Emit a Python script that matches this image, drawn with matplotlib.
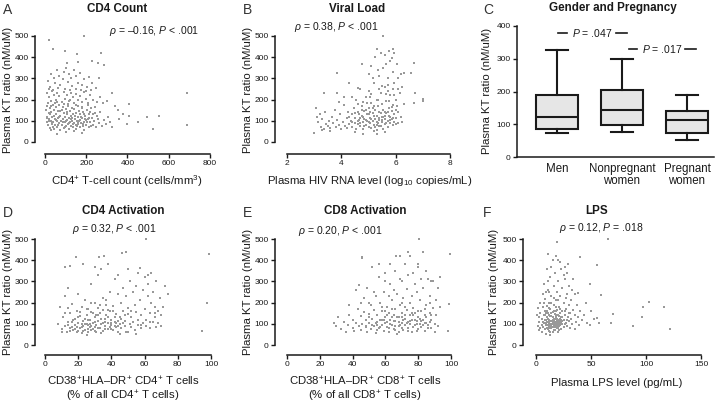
import numpy as np
import matplotlib.pyplot as plt

W, H, DPI = 720, 403, 100

# ---- data ----
# A: CD4 count (cells/mm3) vs KT ratio
a_points = [
    (21, 481), (191, 500), (37, 439), (99, 430), (153, 415), (271, 418), (105, 374), (158, 379),
    (228, 384), (256, 371), (288, 363), (325, 233), (689, 233), (689, 80), (522, 60), (554, 124),
    (493, 119), (453, 94), (406, 177), (406, 124), (400, 83), (341, 172), (353, 152), (360, 110),
    (380, 130),
    (15, 290), (25, 260), (30, 320), (45, 300), (50, 280), (60, 340), (70, 310), (75, 270),
    (85, 295), (90, 330), (100, 350), (110, 285), (115, 320), (125, 300), (130, 265), (140, 340),
    (150, 310), (160, 280), (170, 325), (180, 270), (190, 295), (205, 260), (215, 305), (230, 280),
    (245, 255), (260, 300), (20, 250), (40, 245), (65, 255), (95, 250), (120, 245), (150, 250),
    (175, 245), (200, 240), (225, 245),
    (10, 230), (20, 210), (30, 195), (35, 240), (45, 220), (55, 200), (60, 230), (70, 215),
    (80, 190), (90, 235), (95, 205), (105, 220), (115, 195), (125, 230), (135, 210), (140, 185),
    (150, 225), (160, 200), (170, 215), (180, 190), (190, 235), (200, 205), (210, 185), (220, 220),
    (235, 200), (250, 190), (265, 210), (280, 185), (300, 195), (15, 185), (50, 185), (110, 180),
    (5, 150), (8, 120), (10, 95), (12, 170), (15, 80), (18, 135), (20, 110), (22, 160), (25, 65),
    (28, 100), (30, 140), (32, 85), (35, 120), (38, 175), (40, 95), (42, 60), (45, 150), (48, 110),
    (50, 80), (52, 130), (55, 165), (58, 100), (60, 70), (62, 145), (65, 115), (68, 90), (70, 175),
    (72, 55), (75, 125), (78, 100), (80, 150), (82, 80), (85, 110), (88, 165), (90, 65), (92, 135),
    (95, 95), (98, 120), (100, 155), (102, 75), (105, 105), (108, 140), (110, 85), (112, 170),
    (115, 60), (118, 115), (120, 95), (122, 145), (125, 75), (128, 125), (130, 160), (132, 100),
    (135, 70), (138, 130), (140, 90), (142, 155), (145, 110), (148, 80), (150, 135), (152, 60),
    (155, 100), (158, 170), (160, 120), (162, 85), (165, 145), (168, 70), (170, 105), (172, 130),
    (175, 90), (178, 160), (180, 115), (182, 75), (185, 140), (188, 95), (190, 55), (195, 125),
    (198, 105), (200, 80), (205, 150), (208, 110), (212, 70), (215, 130), (220, 95), (225, 160),
    (228, 115), (232, 80), (238, 100), (242, 135), (248, 70), (255, 110), (260, 90), (268, 140),
    (275, 75), (285, 105), (295, 85), (305, 120), (315, 95), (325, 70), (60, 40), (100, 45),
    (140, 50), (180, 42), (30, 58),
    (20, 100), (25, 130), (35, 90), (45, 125), (55, 105), (65, 80), (75, 145), (85, 95), (95, 70),
    (105, 130), (115, 90), (125, 110), (135, 85), (145, 125), (155, 75), (165, 100), (175, 120),
    (185, 85), (195, 110), (205, 95), (215, 115), (225, 75), (235, 130), (10, 115), (40, 70),
    (70, 120), (100, 100), (130, 115), (160, 95), (190, 130), (220, 140), (250, 125), (30, 170),
    (60, 190), (90, 180), (120, 200), (150, 175), (180, 165), (210, 175), (240, 165),
]

# B: viral load (log10 copies/mL) vs KT ratio
b_points = [
    (5.52, 500), (5.30, 437), (5.89, 440), (3.84, 324), (3.37, 233), (3.84, 233), (4.27, 277),
    (6.69, 374), (6.73, 233), (6.99, 201), (7.02, 195), (6.69, 185), (6.56, 324), (6.32, 324),
    (3.0, 44), (5.33, 40), (3.05, 160),
    (3.1, 120), (3.15, 95), (3.2, 130), (3.25, 70), (3.3, 110), (3.35, 60), (3.4, 140), (3.45, 85),
    (3.5, 75), (3.55, 100), (3.6, 65), (3.65, 120), (3.7, 90), (3.75, 150), (3.8, 70), (3.85, 105),
    (3.9, 80), (3.95, 130), (4.0, 60), (4.05, 95), (4.1, 175), (4.15, 75), (4.2, 115), (4.25, 140),
    (4.3, 85), (3.3, 55), (3.6, 50), (3.9, 190), (4.1, 210), (4.2, 65),
    (4.35, 100), (4.4, 130), (4.4, 70), (4.45, 160), (4.5, 90), (4.5, 115), (4.55, 200), (4.55, 60),
    (4.6, 140), (4.6, 85), (4.65, 105), (4.7, 250), (4.7, 75), (4.75, 125), (4.75, 170), (4.8, 95),
    (4.8, 60), (4.85, 145), (4.85, 110), (4.9, 210), (4.9, 80), (4.95, 130), (4.95, 100), (5.0, 70),
    (5.0, 160), (5.0, 240), (5.05, 115), (5.05, 90), (5.1, 185), (5.1, 65), (5.15, 135), (5.15, 100),
    (5.2, 280), (5.2, 80), (5.25, 150), (5.25, 110), (5.3, 125), (5.3, 55), (5.3, 200), (5.35, 90),
    (5.35, 170), (5.4, 310), (5.4, 105), (5.4, 140), (5.45, 75), (5.45, 230), (5.5, 120), (5.5, 95),
    (5.5, 180), (5.55, 350), (5.55, 60), (5.55, 150), (5.6, 110), (5.6, 260), (5.6, 85), (5.65, 135),
    (5.65, 195), (5.7, 100), (5.7, 300), (5.7, 70), (5.75, 160), (5.75, 125), (5.8, 90), (5.8, 220),
    (5.8, 380), (5.85, 145), (5.85, 110), (5.9, 80), (5.9, 250), (5.9, 175), (5.95, 130), (5.95, 95),
    (6.0, 200), (6.0, 115), (6.0, 150), (6.05, 170), (6.1, 90), (6.1, 140), (6.15, 230), (6.2, 120),
    (6.25, 95), (6.3, 180),
    (4.6, 180), (4.7, 115), (4.8, 190), (4.9, 150), (5.0, 130), (5.1, 225), (5.2, 170), (5.3, 95),
    (5.4, 75), (5.5, 265), (5.6, 140), (5.7, 240), (5.8, 120), (5.9, 330), (4.5, 45), (4.8, 40),
    (5.2, 50), (5.6, 45), (4.4, 210), (4.6, 255), (5.0, 320), (5.1, 360), (5.25, 400), (5.45, 420),
    (5.6, 410), (5.75, 430), (5.85, 395), (5.95, 420), (6.05, 370), (4.75, 370), (5.15, 300),
    (5.35, 340), (5.65, 370), (6.1, 300), (6.2, 320), (6.25, 260), (5.95, 280), (5.65, 225),
    (4.6, 100), (4.7, 90), (4.8, 120), (4.9, 105), (5.0, 95), (5.1, 110), (5.2, 125), (5.3, 80),
    (5.4, 115), (5.5, 105), (5.6, 125), (5.7, 140), (5.8, 105), (5.9, 115), (4.65, 130), (4.85, 75),
    (5.05, 140), (5.25, 70), (5.45, 135), (5.65, 90), (5.85, 165), (6.0, 85), (4.5, 135), (4.4, 95),
    (4.3, 120), (4.95, 185), (5.35, 200), (5.75, 195), (5.15, 160), (5.55, 120), (4.75, 150),
    (5.95, 220), (6.1, 250), (5.7, 270), (5.4, 250), (5.05, 210),
]

# C: box summaries (whisker low, Q1, median, Q3, whisker high)
c_groups = ['Men', 'Nonpregnant\nwomen', 'Pregnant\nwomen']
c_low = [73, 77, 52]
c_q1 = [85, 97, 72]
c_med = [122, 142, 113]
c_q3 = [190, 206, 139]
c_high = [326, 298, 188]

# D: CD4 activation (%) vs KT ratio
d_points = [
    (60.8, 500), (98.5, 429), (97.4, 197), (94.5, 66), (46.3, 435), (48.7, 438), (32.7, 415),
    (35.7, 420), (18.6, 417),
    (8, 100), (9, 180), (10, 75), (11, 130), (12, 90), (12, 230), (13, 60), (14, 110), (14, 270),
    (15, 150), (15, 80), (16, 195), (17, 70), (17, 120), (18, 95), (19, 160), (19, 60),
    (20, 105), (20, 240), (21, 80), (21, 135), (22, 55), (22, 180), (23, 115), (23, 90), (24, 210),
    (24, 70), (25, 140), (25, 100), (26, 60), (26, 170), (27, 120), (27, 85), (28, 290), (28, 155),
    (29, 75), (29, 105), (30, 200), (30, 130), (31, 60), (31, 95), (32, 175), (32, 115), (33, 80),
    (33, 150), (34, 360), (34, 100), (35, 220), (35, 65), (36, 125), (36, 90), (37, 190), (37, 140),
    (38, 75), (38, 105), (39, 250), (39, 160), (40, 95), (40, 120), (41, 70), (41, 185), (42, 310),
    (42, 110), (43, 85), (43, 145), (44, 240), (44, 60), (45, 130), (45, 100), (46, 200), (46, 80),
    (47, 160), (47, 270), (48, 115), (48, 90), (49, 230), (49, 60), (50, 145), (50, 175), (51, 100),
    (51, 300), (52, 85), (52, 130), (53, 250), (53, 110), (54, 70), (54, 190), (55, 155), (55, 280),
    (56, 95), (56, 120), (57, 210), (57, 365), (58, 80), (58, 140), (59, 260), (59, 105), (60, 170),
    (60, 320), (61, 120), (61, 90), (62, 230), (62, 290), (63, 150), (63, 80), (64, 200), (64, 340),
    (65, 110), (65, 250), (66, 180), (66, 130), (67, 85), (67, 300), (68, 160), (68, 105), (69, 220),
    (70, 140), (70, 90), (71, 180), (72, 280), (74, 240),
    (10, 60), (14, 175), (16, 85), (20, 65), (22, 100), (24, 125), (26, 95), (28, 70), (30, 85),
    (32, 140), (34, 55), (36, 110), (38, 165), (40, 75), (42, 130), (44, 90), (18, 125), (12, 150),
    (28, 200), (35, 165), (45, 50), (50, 60), (55, 50), (25, 45), (32, 330), (38, 380), (23, 380),
    (15, 375), (12, 370), (30, 370), (44, 330), (50, 360), (56, 340), (62, 330),
    (14, 95), (16, 110), (18, 75), (20, 130), (22, 85), (24, 100), (26, 120), (28, 90), (30, 110),
    (32, 80), (34, 125), (36, 75), (38, 130), (40, 105), (42, 90), (44, 115), (46, 125), (48, 140),
    (15, 65), (19, 85), (23, 65), (27, 100), (31, 140), (35, 105), (39, 85), (43, 105), (47, 105),
    (21, 155), (25, 170), (29, 150), (33, 190), (37, 210), (41, 160), (26, 75), (30, 65), (52, 160),
    (58, 95), (63, 110), (66, 150),
]

# E: CD8 activation (%) vs KT ratio
e_points = [
    (80.3, 500), (99.4, 429), (99.0, 193), (98.1, 66), (45.7, 417), (28.9, 102), (31, 133),
    (82.8, 440), (73.6, 437), (66.5, 421),
    (30, 90), (31, 130), (33, 75), (35, 110), (36, 60), (37, 95), (38, 190), (38, 140), (40, 80),
    (40, 120), (41, 65), (42, 260), (42, 105), (43, 170), (44, 90), (44, 285), (45, 135), (45, 70),
    (46, 410), (46, 100), (47, 155), (47, 220), (48, 85), (48, 120), (49, 270), (49, 60), (50, 145),
    (50, 105), (51, 190), (51, 75), (52, 125), (52, 370), (53, 90), (53, 165), (54, 55), (54, 230),
    (55, 110), (55, 140), (56, 80), (56, 380), (57, 200), (57, 120), (58, 95), (58, 160), (59, 65),
    (59, 250), (60, 130), (60, 105), (60, 340), (61, 180), (61, 85), (62, 150), (62, 60), (63, 120),
    (63, 290), (64, 210), (64, 95), (65, 140), (65, 75), (66, 170), (66, 115), (67, 50), (67, 240),
    (68, 130), (68, 90), (69, 190), (69, 310), (70, 105), (70, 150), (71, 70), (71, 220), (72, 125),
    (72, 95), (73, 265), (73, 165), (74, 110), (74, 80), (75, 140), (75, 200), (76, 60), (76, 120),
    (77, 340), (77, 175), (78, 95), (78, 150), (79, 115), (79, 250), (80, 130), (80, 75), (80, 380),
    (81, 210), (81, 100), (82, 160), (82, 85), (83, 120), (83, 270), (84, 140), (84, 65), (85, 190),
    (85, 105), (86, 95), (86, 310), (87, 150), (87, 230), (88, 80), (88, 120), (89, 300), (89, 175),
    (90, 100), (90, 60), (91, 140), (91, 210), (92, 270), (92, 90), (93, 180), (93, 320),
    (52, 95), (55, 70), (58, 180), (61, 110), (64, 170), (66, 90), (68, 60), (70, 130), (72, 180),
    (75, 100), (77, 85), (79, 65), (62, 230), (65, 260), (70, 300), (74, 330), (78, 290), (82, 310),
    (85, 350), (88, 300), (84, 170), (87, 200), (76, 230), (70, 200), (60, 300), (56, 320), (66, 350),
    (72, 380), (80, 370), (50, 200), (45, 200), (53, 250), (63, 380), (69, 420), (75, 420),
    (55, 95), (57, 85), (59, 120), (61, 140), (63, 100), (65, 115), (67, 130), (69, 95), (71, 120),
    (73, 105), (75, 115), (77, 140), (79, 100), (81, 125), (83, 95), (85, 130), (87, 110), (62, 80),
    (66, 70), (70, 80), (74, 65), (78, 120), (82, 115), (86, 80), (60, 160), (64, 130), (68, 110),
    (72, 140), (76, 150), (80, 160), (84, 105), (88, 140), (58, 120), (54, 105), (50, 130), (48, 90),
]

# F: plasma LPS (pg/mL) vs KT ratio
f_points = [
    (65.5, 500), (19.4, 484), (40, 413), (55.8, 377), (48.8, 286), (58.8, 236), (102.7, 201),
    (97.6, 181), (116.4, 181), (96.7, 131), (70.3, 148), (67.9, 102), (88.5, 91), (121.5, 77),
    (57.3, 102), (52.7, 125), (55.7, 128), (49.7, 159), (48.8, 96),
    (1, 140), (2, 90), (2, 175), (3, 110), (3, 70), (4, 150), (4, 200), (5, 95), (5, 125), (5, 60),
    (6, 180), (6, 240), (6, 85), (7, 105), (7, 140), (7, 290), (8, 75), (8, 160), (8, 215), (9, 120),
    (9, 95), (9, 50), (10, 130), (10, 185), (10, 360), (10, 80), (11, 110), (11, 150), (11, 260),
    (11, 430), (12, 90), (12, 65), (12, 200), (12, 140), (13, 115), (13, 170), (13, 320), (13, 45),
    (14, 100), (14, 135), (14, 80), (14, 230), (15, 155), (15, 110), (15, 60), (15, 400), (16, 125),
    (16, 190), (16, 90), (16, 280), (17, 105), (17, 145), (17, 70), (17, 340), (18, 130), (18, 210),
    (18, 95), (18, 420), (19, 115), (19, 165), (19, 80), (19, 250), (20, 140), (20, 100), (20, 60),
    (20, 300), (21, 120), (21, 180), (21, 90), (22, 150), (22, 110), (22, 230), (23, 75), (23, 130),
    (23, 360), (24, 160), (24, 100), (24, 270), (25, 120), (25, 85), (25, 200), (26, 140), (26, 310),
    (27, 105), (27, 170), (28, 90), (28, 240), (29, 130), (29, 380), (30, 115), (30, 190), (31, 150),
    (31, 80), (32, 210), (32, 125), (33, 100), (33, 260), (34, 165), (35, 140), (35, 75), (36, 110),
    (37, 190), (38, 130), (39, 95), (40, 160), (42, 120), (44, 140), (46, 105), (45, 200), (38, 245),
    (34, 310), (28, 340), (22, 390), (26, 370),
    (10, 110), (12, 120), (14, 115), (16, 105), (18, 100), (20, 120), (13, 95), (15, 85), (17, 125),
    (19, 140), (11, 75), (21, 70), (9, 150), (23, 105), (15, 130), (17, 95), (19, 105), (24, 130),
    (16, 160), (12, 175), (8, 120), (6, 110), (4, 80), (3, 130), (7, 200), (9, 250), (11, 300),
    (14, 370), (20, 400), (25, 330), (30, 280), (27, 220), (35, 240),
    (10, 95), (11, 125), (12, 105), (13, 135), (14, 90), (15, 120), (16, 115), (17, 85), (18, 140),
    (19, 90), (20, 110), (21, 135), (22, 95), (23, 120), (12, 80), (14, 150), (16, 70), (18, 160),
    (20, 80), (22, 125), (13, 60), (15, 100), (17, 110), (19, 125), (9, 105), (11, 95), (21, 105),
    (24, 115), (26, 100), (28, 120), (14, 200), (18, 180), (22, 170), (10, 160), (8, 140), (26, 160),
    (30, 150), (16, 220), (20, 210), (12, 250),
]

titles = ['CD4 Count', 'Viral Load', 'Gender and Pregnancy', 'CD4 Activation', 'CD8 Activation', 'LPS']
stats_text = [r'$\rho$ = –0.16, $P$ < .001', r'$\rho$ = 0.38, $P$ < .001', '',
              r'$\rho$ = 0.32, $P$ < .001', r'$\rho$ = 0.20, $P$ < .001', r'$\rho$ = 0.12, $P$ = .018']
ylab = 'Plasma KT ratio (nM/uM)'

plt.rcParams['font.family'] = ['Liberation Sans', 'DejaVu Sans']
plt.rcParams['mathtext.fontset'] = 'custom'
plt.rcParams['mathtext.rm'] = 'Liberation Sans'
plt.rcParams['mathtext.it'] = 'Liberation Sans:italic'
plt.rcParams['mathtext.bf'] = 'Liberation Sans:bold'

INK = '#1a1a1a'
DOT = '#999999'
LAB = 8.2

fig = plt.figure(figsize=(W / DPI, H / DPI), dpi=DPI)


def pt(px):
    return px * 72 / DPI


def px_axes(left, top, right, bottom):
    return fig.add_axes([left / W, 1 - bottom / H, (right - left) / W, (bottom - top) / H])


def ftext(x, y, s, **kw):
    kw.setdefault('color', INK)
    return fig.text(x / W, 1 - y / H, s, **kw)


def style(ax, size=6):
    for s in ['top', 'right']:
        ax.spines[s].set_visible(False)
    for s in ['left', 'bottom']:
        ax.spines[s].set_linewidth(1.1)
        ax.spines[s].set_color(INK)
    ax.tick_params(labelsize=size, length=3, width=1.0, pad=1.5, colors=INK)
    ax.patch.set_visible(False)


def scatter_panel(box, pts, xmax, xticks, xmin=0, lpad=10, bpad=12):
    ax = px_axes(*box)
    xs = [p[0] for p in pts]
    ys = [p[1] for p in pts]
    ax.scatter(xs, ys, s=4.2, c=DOT, marker='s', linewidths=0, clip_on=False)
    ax.set_xlim(xmin, xmax)
    ax.set_ylim(0, 500)
    ax.set_xticks(xticks)
    ax.set_yticks([0, 100, 200, 300, 400, 500])
    style(ax)
    ax.spines['left'].set_position(('outward', pt(lpad)))
    ax.spines['bottom'].set_position(('outward', pt(bpad)))
    ax.spines['left'].set_bounds(0, 500)
    ax.spines['bottom'].set_bounds(xmin, xmax)
    return ax


# --- scatter panels ---
scatter_panel((45, 36, 210, 142), a_points, 800, [0, 200, 400, 600, 800], lpad=10, bpad=12)
scatter_panel((287, 36, 450, 142), b_points, 8, [2, 4, 6, 8], xmin=2, lpad=12, bpad=12)
scatter_panel((45, 239, 211, 345), d_points, 100, [0, 20, 40, 60, 80, 100], lpad=10, bpad=10)
scatter_panel((287, 239, 451, 345), e_points, 100, [0, 20, 40, 60, 80, 100], lpad=12, bpad=10)
scatter_panel((536, 239, 701, 345), f_points, 150, [0, 50, 100, 150], lpad=13, bpad=10)

# --- box panel C ---
axc = px_axes(517, 26, 714, 157)
bstats = [dict(whislo=lo, q1=q1, med=md, q3=q3, whishi=hi)
          for lo, q1, md, q3, hi in zip(c_low, c_q1, c_med, c_q3, c_high)]
axc.bxp(bstats, positions=[1, 2, 3], widths=0.66, showfliers=False, patch_artist=True,
        boxprops=dict(facecolor='#e6e6e6', edgecolor=INK, linewidth=1.5),
        medianprops=dict(color=INK, linewidth=1.5),
        whiskerprops=dict(color=INK, linewidth=1.5),
        capprops=dict(color=INK, linewidth=1.5), capwidths=0.33)
axc.set_xlim(1 - 40 / 65, 3 + 27 / 65)
axc.set_ylim(0, 400)
axc.set_yticks([0, 100, 200, 300, 400])
style(axc)
axc.set_xticks([1, 2, 3])
axc.set_xticklabels(c_groups, fontsize=8.3, linespacing=1.05)
axc.tick_params(axis='x', length=0, pad=4)

# significance marks
for (l0, l1, xc, r0, r1, yv, lab) in [(1.015, 1.154, 1.535, 1.909, 2.077, 380, r'$P$ = .047'),
                                      (2.108, 2.23, 2.625, 2.975, 3.14, 330, r'$P$ = .017')]:
    axc.plot([l0, l1], [yv, yv], color=INK, lw=1.2)
    axc.plot([r0, r1], [yv, yv], color=INK, lw=1.2)
    axc.text(xc, yv, lab, ha='center', va='center', fontsize=7.5, color=INK)

# --- text ---
letters = [('A', 3, 10), ('B', 243, 10), ('C', 483, 10), ('D', 3, 213), ('E', 243, 213), ('F', 483, 213)]
for s, x, y in letters:
    ftext(x, y, s, fontsize=10, ha='left', va='center', color='#333333')

title_pos = [(117, 9), (357, 9), (613, 8), (123, 211), (365, 211), (597, 211)]
for t, (x, y) in zip(titles, title_pos):
    ftext(x, y, t, fontsize=8.4, ha='center', va='center', fontweight='bold')

stat_pos = [(154, 31), (336, 27), None, (114, 229), (340, 231), (601, 228)]
for t, p in zip(stats_text, stat_pos):
    if p:
        ftext(p[0], p[1], t, fontsize=7.5, ha='center', va='center')

for x, y in [(8, 90), (248, 90), (487, 91), (8, 292), (248, 292), (494, 292)]:
    ftext(x, y, ylab, fontsize=LAB, rotation=90, ha='center', va='center')

ftext(127, 181, r'CD4$^{+}$ T-cell count (cells/mm$^{3}$)', fontsize=LAB, ha='center', va='center')
ftext(370, 181, r'Plasma HIV RNA level (log$_{10}$ copies/mL)', fontsize=LAB, ha='center', va='center')
ftext(123, 389, 'CD38$^{+}$HLA–DR$^{+}$ CD4$^{+}$ T cells\n(% of all CD4$^{+}$ T cells)',
      fontsize=LAB, ha='center', va='center', linespacing=1.05)
ftext(365, 389, 'CD38$^{+}$HLA–DR$^{+}$ CD8$^{+}$ T cells\n(% of all CD8$^{+}$ T cells)',
      fontsize=LAB, ha='center', va='center', linespacing=1.05)
ftext(617, 383, 'Plasma LPS level (pg/mL)', fontsize=LAB, ha='center', va='center')

fig.savefig('out.png', dpi=DPI)
